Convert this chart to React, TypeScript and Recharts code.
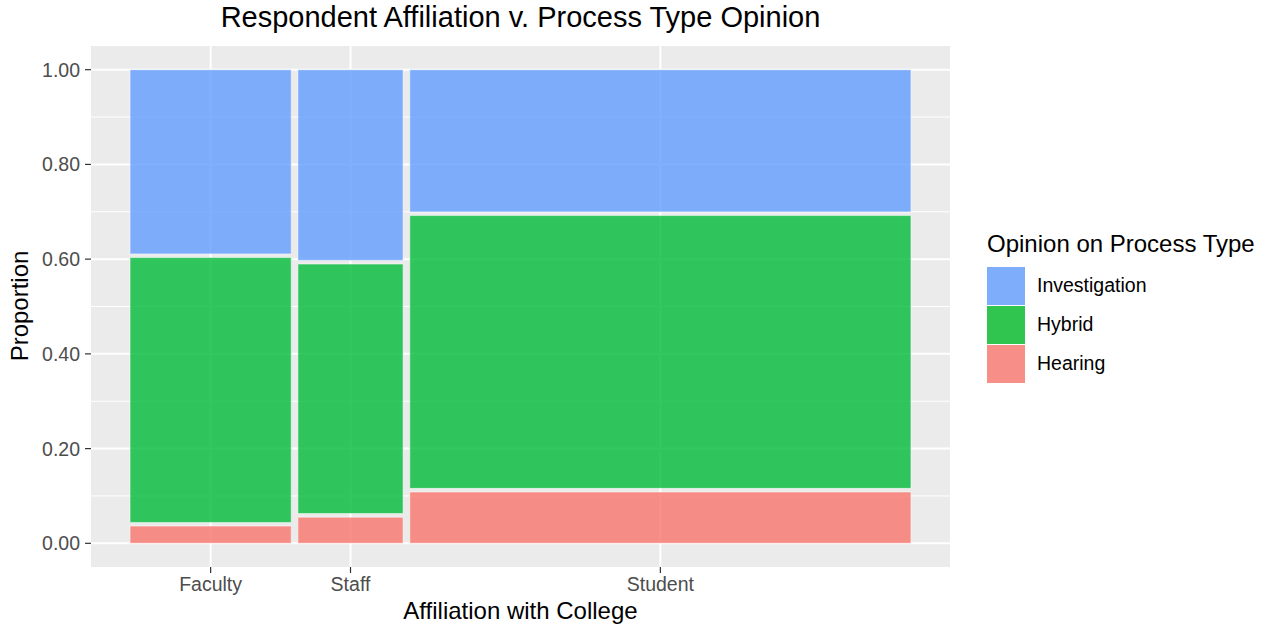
import React from 'react';
import {
  ComposedChart,
  XAxis,
  YAxis,
  CartesianGrid,
  ReferenceArea,
} from 'recharts';

// categories along x, widths are the share of respondents in each group
const affiliations = ['Faculty', 'Staff', 'Student'];
const affiliationShare = [0.21, 0.137, 0.653];

// opinion shares within each affiliation (bottom to top: Hearing, Hybrid, Investigation)
const hearingShare = [0.037, 0.056, 0.11];
const hybridShare = [0.568, 0.535, 0.585];
const investigationShare = [0.395, 0.409, 0.305];

const opinionNames = ['Investigation', 'Hybrid', 'Hearing'];
const yTicks = [0, 0.2, 0.4, 0.6, 0.8, 1.0];
const yMinorTicks = [0.1, 0.3, 0.5, 0.7, 0.9];

const FONT = '"Liberation Sans", Arial, Helvetica, sans-serif';
const X_GAP = 0.0086;
const Y_GAP = 0.0077;

const seriesFill: Record<string, string> = {
  Investigation: '#619CFF',
  Hybrid: '#00BA38',
  Hearing: '#F8766D',
};
// same colours at alpha 0.8 over the legend key background
const keyFill: Record<string, string> = {
  Investigation: '#7EADFC',
  Hybrid: '#30C54E',
  Hearing: '#F78F88',
};

// build the mosaic cells from the shares
const xScaleTotal = 1 - X_GAP * (affiliations.length - 1);
const yScaleTotal = 1 - Y_GAP * 2;
const columns = affiliations.map((name, i) => {
  const x1 =
    affiliationShare.slice(0, i).reduce((a, b) => a + b, 0) * xScaleTotal + X_GAP * i;
  const x2 = x1 + affiliationShare[i] * xScaleTotal;
  return { name, x1, x2, center: (x1 + x2) / 2 };
});

const cells = columns.flatMap((col, i) => {
  const parts = [
    { opinion: 'Hearing', share: hearingShare[i] },
    { opinion: 'Hybrid', share: hybridShare[i] },
    { opinion: 'Investigation', share: investigationShare[i] },
  ];
  let y = 0;
  return parts.map(p => {
    const y1 = y;
    const y2 = y1 + p.share * yScaleTotal;
    y = y2 + Y_GAP;
    return { key: `${col.name}-${p.opinion}`, x1: col.x1, x2: col.x2, y1, y2, opinion: p.opinion };
  });
});

const xTicks = columns.map(c => c.center);

export default function App() {
  return (
    <div style={{ position: 'absolute', left: 0, top: 0, width: 1272, height: 627, background: '#ffffff', fontFamily: FONT }}>
      <div
        style={{
          position: 'absolute',
          left: 91,
          width: 859,
          top: 3,
          textAlign: 'center',
          fontSize: 29,
          lineHeight: '29px',
          color: '#000000',
          whiteSpace: 'nowrap',
        }}
      >
        Respondent Affiliation v. Process Type Opinion
      </div>

      <ComposedChart
        width={1272}
        height={627}
        data={columns}
        margin={{ top: 46, right: 322, bottom: 0, left: 0 }}
      >
        <CartesianGrid
          fill="#EBEBEB"
          stroke="#ffffff"
          strokeWidth={1}
          vertical={false}
          horizontalValues={yMinorTicks}
        />
        <CartesianGrid
          stroke="#ffffff"
          strokeWidth={2}
          horizontalValues={yTicks}
          verticalValues={xTicks}
        />
        <XAxis
          type="number"
          dataKey="center"
          domain={[-0.05, 1.05]}
          allowDataOverflow
          ticks={xTicks}
          interval={0}
          height={60}
          axisLine={false}
          tickSize={6}
          tickMargin={4}
          tickLine={{ stroke: '#333333', strokeWidth: 1.2 }}
          tick={{ fill: '#4D4D4D', fontSize: 19.5, fontFamily: FONT }}
          tickFormatter={(v: number) => {
            const idx = xTicks.findIndex(t => Math.abs(t - v) < 1e-6);
            return idx >= 0 ? affiliations[idx] : '';
          }}
        />
        <YAxis
          type="number"
          domain={[-0.05, 1.05]}
          allowDataOverflow
          ticks={yTicks}
          interval={0}
          width={91}
          axisLine={false}
          tickSize={6}
          tickMargin={5}
          tickLine={{ stroke: '#333333', strokeWidth: 1.2 }}
          tick={{ fill: '#4D4D4D', fontSize: 19.5, fontFamily: FONT }}
          tickFormatter={(v: number) => v.toFixed(2)}
        />
        {cells.map(c => (
          <ReferenceArea
            key={c.key}
            x1={c.x1}
            x2={c.x2}
            y1={c.y1}
            y2={c.y2}
            fill={seriesFill[c.opinion]}
            fillOpacity={0.8}
            stroke="#ffffff"
            strokeOpacity={0.5}
            strokeWidth={1}
            ifOverflow="visible"
          />
        ))}
      </ComposedChart>

      {/* axis titles */}
      <div
        style={{
          position: 'absolute',
          left: 91,
          width: 859,
          top: 599,
          textAlign: 'center',
          fontSize: 24,
          lineHeight: '24px',
          color: '#000000',
        }}
      >
        Affiliation with College
      </div>
      <div
        style={{
          position: 'absolute',
          left: 20,
          top: 306,
          transform: 'translate(-50%, -50%) rotate(-90deg)',
          fontSize: 24,
          lineHeight: '24px',
          color: '#000000',
          whiteSpace: 'nowrap',
        }}
      >
        Proportion
      </div>

      {/* legend */}
      <div style={{ position: 'absolute', left: 987, top: 232 }}>
        <div style={{ fontSize: 24, lineHeight: '24px', color: '#000000', whiteSpace: 'nowrap' }}>
          Opinion on Process Type
        </div>
        <div style={{ marginTop: 10 }}>
          {opinionNames.map(name => (
            <div key={name} style={{ display: 'flex', alignItems: 'center', height: 39 }}>
              <div style={{ width: 38, height: 38, background: keyFill[name] }} />
              <span style={{ marginLeft: 12, fontSize: 19.5, color: '#000000' }}>{name}</span>
            </div>
          ))}
        </div>
      </div>
    </div>
  );
}
